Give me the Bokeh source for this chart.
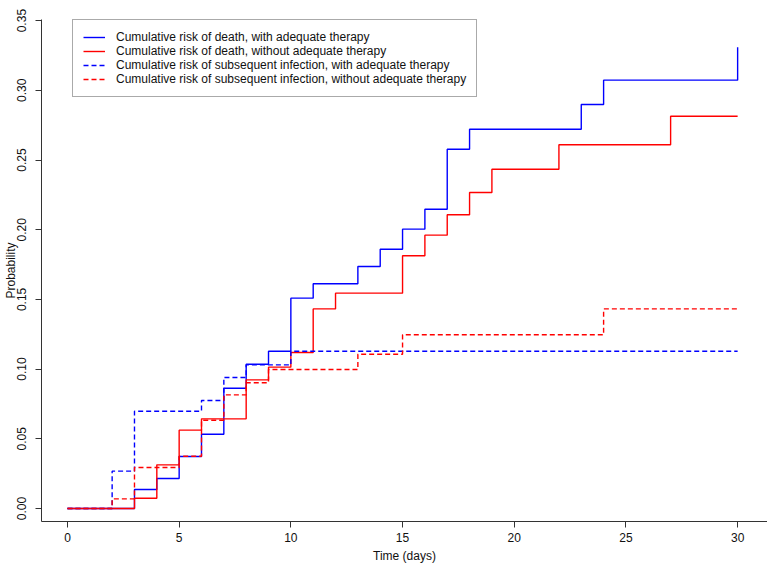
import math
from bokeh.plotting import figure
from bokeh.models import Range1d, FixedTicker, Legend, LegendItem
from bokeh.embed import file_html
from bokeh.resources import INLINE

# Cumulative risk of death, with adequate therapy
death_adequate_t = [0, 3, 4, 5, 6, 7, 8, 9, 10, 11, 13, 14, 15, 16, 17, 18, 23, 24, 30]
death_adequate_p = [0.0, 0.0136, 0.0215, 0.0373, 0.0533, 0.0863, 0.1035, 0.1128, 0.1509,
                    0.1612, 0.1736, 0.1860, 0.2004, 0.2147, 0.2577, 0.2721, 0.2898, 0.3073, 0.3309]

# Cumulative risk of death, without adequate therapy
death_inadequate_t = [0, 3, 4, 5, 6, 8, 9, 10, 11, 12, 15, 16, 17, 18, 19, 22, 27, 30]
death_inadequate_p = [0.0, 0.0074, 0.0313, 0.0562, 0.0643, 0.0923, 0.1014, 0.1119, 0.1432,
                      0.1545, 0.1813, 0.1961, 0.2107, 0.2267, 0.2434, 0.2609, 0.2814, 0.2814]

# Cumulative risk of subsequent infection, with adequate therapy
infect_adequate_t = [0, 2, 3, 6, 7, 8, 10, 30]
infect_adequate_p = [0.0, 0.0268, 0.0698, 0.0775, 0.0940, 0.1030, 0.1128, 0.1128]

# Cumulative risk of subsequent infection, without adequate therapy
infect_inadequate_t = [0, 2, 3, 5, 6, 7, 8, 9, 13, 15, 24, 30]
infect_inadequate_p = [0.0, 0.0069, 0.0294, 0.0375, 0.0633, 0.0815, 0.0902, 0.0997,
                       0.1107, 0.1246, 0.1432, 0.1432]

x_ticks = [0, 5, 10, 15, 20, 25, 30]
y_ticks = [0.00, 0.05, 0.10, 0.15, 0.20, 0.25, 0.30, 0.35]
y_tick_labels = ["0.00", "0.05", "0.10", "0.15", "0.20", "0.25", "0.30", "0.35"]

legend_labels = [
    "Cumulative risk of death, with adequate therapy",
    "Cumulative risk of death, without adequate therapy",
    "Cumulative risk of subsequent infection, with adequate therapy",
    "Cumulative risk of subsequent infection, without adequate therapy",
]

FONT = "Liberation Sans"

p = figure(width=767, height=568, output_backend="svg", toolbar_location=None, title=None,
           x_range=Range1d(-1.1623, 31.337), y_range=Range1d(-0.00933, 0.3508),
           min_border_left=40, min_border_right=0, min_border_top=19, min_border_bottom=47)
p.outline_line_color = None
p.grid.visible = False
p.background_fill_color = "white"
p.border_fill_color = "white"

for ax in (p.xaxis[0], p.yaxis[0]):
    ax.axis_line_color = "#333333"
    ax.axis_line_width = 1
    ax.major_tick_line_color = "#333333"
    ax.major_tick_out = 6
    ax.major_tick_in = 0
    ax.minor_tick_line_color = None
    ax.major_label_text_font = FONT
    ax.major_label_text_font_size = "12px"
    ax.major_label_text_color = "#111111"
    ax.axis_label_text_font = FONT
    ax.axis_label_text_font_size = "12px"
    ax.axis_label_text_font_style = "normal"
    ax.axis_label_text_color = "#111111"

p.xaxis.ticker = FixedTicker(ticks=x_ticks)
p.xaxis.major_label_standoff = 5
p.xaxis.axis_label = "Time (days)"
p.xaxis.axis_label_standoff = 4

p.yaxis.ticker = FixedTicker(ticks=y_ticks)
p.yaxis.major_label_overrides = {t: s for t, s in zip(y_ticks, y_tick_labels)}
p.yaxis.major_label_orientation = "parallel"
p.yaxis.major_label_standoff = 9
p.yaxis.axis_label = "Probability"
p.yaxis.axis_label_standoff = -3

lw = 1.4
r1 = p.step(death_adequate_t, death_adequate_p, mode="after", line_color="#0000ff", line_width=lw)
r2 = p.step(death_inadequate_t, death_inadequate_p, mode="after", line_color="#ff0000", line_width=lw)
r3 = p.step(infect_adequate_t, infect_adequate_p, mode="after", line_color="#0000ff", line_width=lw,
            line_dash="5 3")
r4 = p.step(infect_inadequate_t, infect_inadequate_p, mode="after", line_color="#ff0000", line_width=lw,
            line_dash="5 3")

legend = Legend(items=[LegendItem(label=l, renderers=[r]) for l, r in zip(legend_labels, [r1, r2, r3, r4])],
                location=(31, 424), padding=10, spacing=0, glyph_width=22, glyph_height=14,
                label_height=14, label_standoff=11, label_text_font=FONT, label_text_font_size="12px",
                label_text_color="#111111", border_line_color="#555555", border_line_width=1,
                background_fill_color="white", background_fill_alpha=1.0, margin=0)
p.add_layout(legend)

open("out.html", "w").write(file_html(p, INLINE))
